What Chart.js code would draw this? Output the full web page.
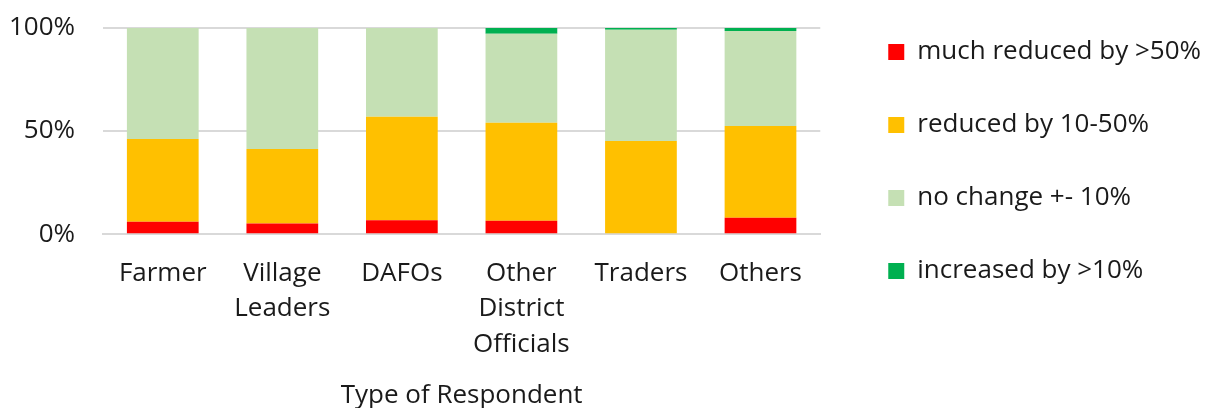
<!DOCTYPE html>
<html lang="en">

<head>
    <meta charset="UTF-8">
    <title>Type of Respondent</title>
    <script src="https://cdn.jsdelivr.net/npm/chart.js"></script>
    <style>
        * {
            margin: 0;
            padding: 0;
            box-sizing: border-box;
        }

        body {
            background-color: #fff;
            font-family: "Open Sans", sans-serif;
        }

        .container {
            width: 1212px;
            height: 408px;
        }
    </style>
</head>

<body>
    <div class="container">
        <canvas id="respondent-chart"></canvas>
    </div>

    <script>
        // categories and shares (%)
        var respondents = ['Farmer', ['Village', 'Leaders'], 'DAFOs', ['Other', 'District', 'Officials'], 'Traders', 'Others'];
        var muchReduced = [6, 5.2, 6.8, 6.5, 0.5, 8];
        var reduced = [40.1, 36.1, 50.1, 47.5, 44.7, 44.5];
        var noChange = [53.9, 58.7, 43.1, 43.2, 54, 46];
        var increased = [0, 0, 0, 2.8, 0.8, 1.5];
        var yTicks = [0, 50, 100];

        // put the legend column beside the plot, first row level with the top
        var legendShift = {
            id: 'legendShift',
            afterLayout: function (chart) {
                var lg = chart.legend;
                var h = lg.bottom - lg.top;
                lg.top = chart.chartArea.top - 36;
                lg.bottom = lg.top + h;
                lg.left += 21;
                lg.right += 21;
            }
        };

        var ctx = document.getElementById('respondent-chart').getContext('2d');
        var myChart = new Chart(ctx, {
            type: 'bar',
            data: {
                labels: respondents,
                datasets: [{
                    label: 'much reduced by >50%',
                    data: muchReduced,
                    backgroundColor: '#FF0000'
                }, {
                    label: 'reduced by 10-50%',
                    data: reduced,
                    backgroundColor: '#FFC000'
                }, {
                    label: 'no change +- 10%',
                    data: noChange,
                    backgroundColor: '#C5E0B4'
                }, {
                    label: 'increased by >10%',
                    data: increased,
                    backgroundColor: '#00B050'
                }]
            },
            options: {
                responsive: true,
                maintainAspectRatio: false,
                animation: false,
                layout: {
                    padding: { top: 28, right: 22, left: 0, bottom: -3 }
                },
                datasets: {
                    bar: {
                        barPercentage: 0.6,
                        categoryPercentage: 1
                    }
                },
                plugins: {
                    legend: {
                        position: 'right',
                        align: 'start',
                        maxWidth: 400,
                        labels: {
                            color: '#1a1a1a',
                            font: { family: 'Open Sans', size: 26 },
                            boxWidth: 16,
                            boxHeight: 16,
                            padding: 47
                        }
                    },
                    tooltip: { enabled: false }
                },
                scales: {
                    x: {
                        stacked: true,
                        grid: { display: false, drawTicks: false },
                        border: { color: '#d9d9d9', width: 2 },
                        ticks: {
                            color: '#1a1a1a',
                            font: { family: 'Open Sans', size: 26, lineHeight: 1.38 },
                            maxRotation: 0,
                            autoSkip: false,
                            padding: 21
                        },
                        title: {
                            display: true,
                            text: 'Type of Respondent',
                            color: '#1a1a1a',
                            font: { family: 'Open Sans', size: 26 },
                            padding: { top: -4, bottom: 0 }
                        }
                    },
                    y: {
                        stacked: true,
                        min: 0,
                        max: 100,
                        afterBuildTicks: function (axis) {
                            axis.ticks = yTicks.map(function (v) { return { value: v }; });
                        },
                        afterFit: function (axis) {
                            axis.width = 103;
                        },
                        grid: {
                            color: '#d9d9d9',
                            lineWidth: 2,
                            drawTicks: true,
                            tickLength: 28,
                            tickColor: 'rgba(0,0,0,0)'
                        },
                        border: { display: false },
                        ticks: {
                            color: '#1a1a1a',
                            font: { family: 'Open Sans', size: 26 },
                            padding: 0,
                            callback: function (v) { return v + '%'; }
                        }
                    }
                }
            },
            plugins: [legendShift]
        });
    </script>
</body>

</html>
